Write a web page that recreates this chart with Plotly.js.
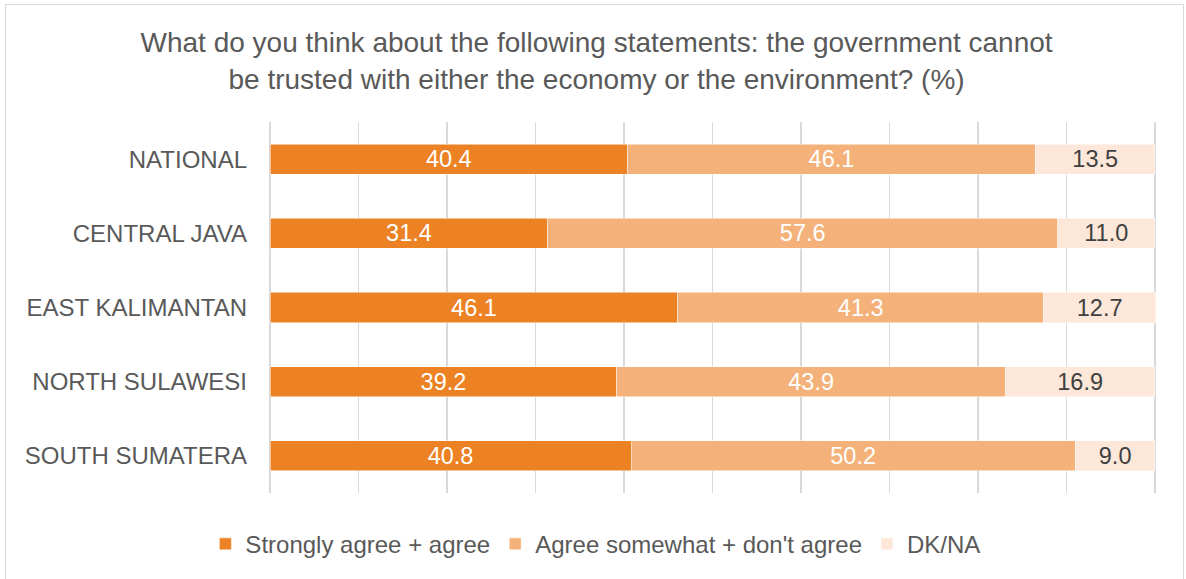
<!DOCTYPE html>
<html>
<head>
<meta charset="utf-8">
<script src="https://cdn.plot.ly/plotly-3.0.1.min.js"></script>
<style>
  html, body { margin: 0; padding: 0; background: #fff; }
  #wrap { position: relative; width: 1186px; height: 579px; overflow: hidden; }
  #chart { position: absolute; left: 0; top: 0; width: 1186px; height: 579px; }
  #frame { position: absolute; left: 5px; top: 4px; width: 1179px; height: 600px; border: 1px solid #d9d9d9; box-sizing: border-box; pointer-events: none; }
</style>
</head>
<body>
<div id="wrap"><div id="chart"></div><div id="frame"></div></div>
<script>
const categories = ["NATIONAL", "CENTRAL JAVA", "EAST KALIMANTAN", "NORTH SULAWESI", "SOUTH SUMATERA"];
const stronglyAgree = [40.4, 31.4, 46.1, 39.2, 40.8];
const agreeSomewhat = [46.1, 57.6, 41.3, 43.9, 50.2];
const dkna = [13.5, 11.0, 12.7, 16.9, 9.0];
const seriesNames = ["Strongly agree + agree", "Agree somewhat + don't agree", "DK/NA"];
const colors = ["#EC8224", "#F4B27A", "#FCE7D8"];
const textColors = ["#ffffff", "#ffffff", "#404040"];

const seriesValues = [stronglyAgree, agreeSomewhat, dkna];
const traces = seriesValues.map((vals, i) => ({
  type: 'bar',
  orientation: 'h',
  name: seriesNames[i],
  y: categories,
  x: vals,
  marker: { color: colors[i], line: { color: '#ffffff', width: 0.5 } },
  texttemplate: '%{x:.1f}',
  textposition: 'inside',
  insidetextanchor: 'middle',
  constraintext: 'none',
  textangle: 0,
  insidetextfont: { family: 'Liberation Sans, Arial, sans-serif', size: 23.5, color: textColors[i] },
  hoverinfo: 'skip',
  cliponaxis: false
}));

const layout = {
  width: 1186,
  height: 579,
  barmode: 'stack',
  bargap: 0.595,
  paper_bgcolor: '#ffffff',
  plot_bgcolor: '#ffffff',
  margin: { l: 270, r: 30, t: 122, b: 86 },
  font: { family: 'Liberation Sans, Arial, sans-serif', color: '#595959' },
  title: {
    text: 'What do you think about the following statements: the government cannot<br>be trusted with either the economy or the environment? (%)',
    font: { size: 28, color: '#595959', family: 'Liberation Sans, Arial, sans-serif' },
    x: 0.503, xref: 'container', xanchor: 'center',
    y: 0.9095, yref: 'container', yanchor: 'middle'
  },
  xaxis: {
    range: [0, 100.12],
    tickvals: [0, 10, 20, 30, 40, 50, 60, 70, 80, 90, 100],
    showticklabels: false,
    showgrid: true,
    gridcolor: '#d9d9d9',
    gridwidth: 1.5,
    zeroline: true,
    zerolinecolor: '#d9d9d9',
    zerolinewidth: 1.5,
    showline: false,
    fixedrange: true
  },
  yaxis: {
    autorange: 'reversed',
    tickfont: { size: 24, color: '#595959' },
    ticks: '',
    ticklen: 0,
    ticklabelstandoff: 22,
    showgrid: false,
    zeroline: false,
    showline: false,
    fixedrange: true
  },
  showlegend: true,
  legend: {
    orientation: 'h',
    xref: 'container', yref: 'container',
    x: 0.502, xanchor: 'center',
    y: 0.06, yanchor: 'middle',
    font: { size: 24, color: '#595959' },
    traceorder: 'normal',
    itemwidth: 30
  }
};

Plotly.newPlot('chart', traces, layout, { staticPlot: true, displayModeBar: false });
</script>
</body>
</html>
